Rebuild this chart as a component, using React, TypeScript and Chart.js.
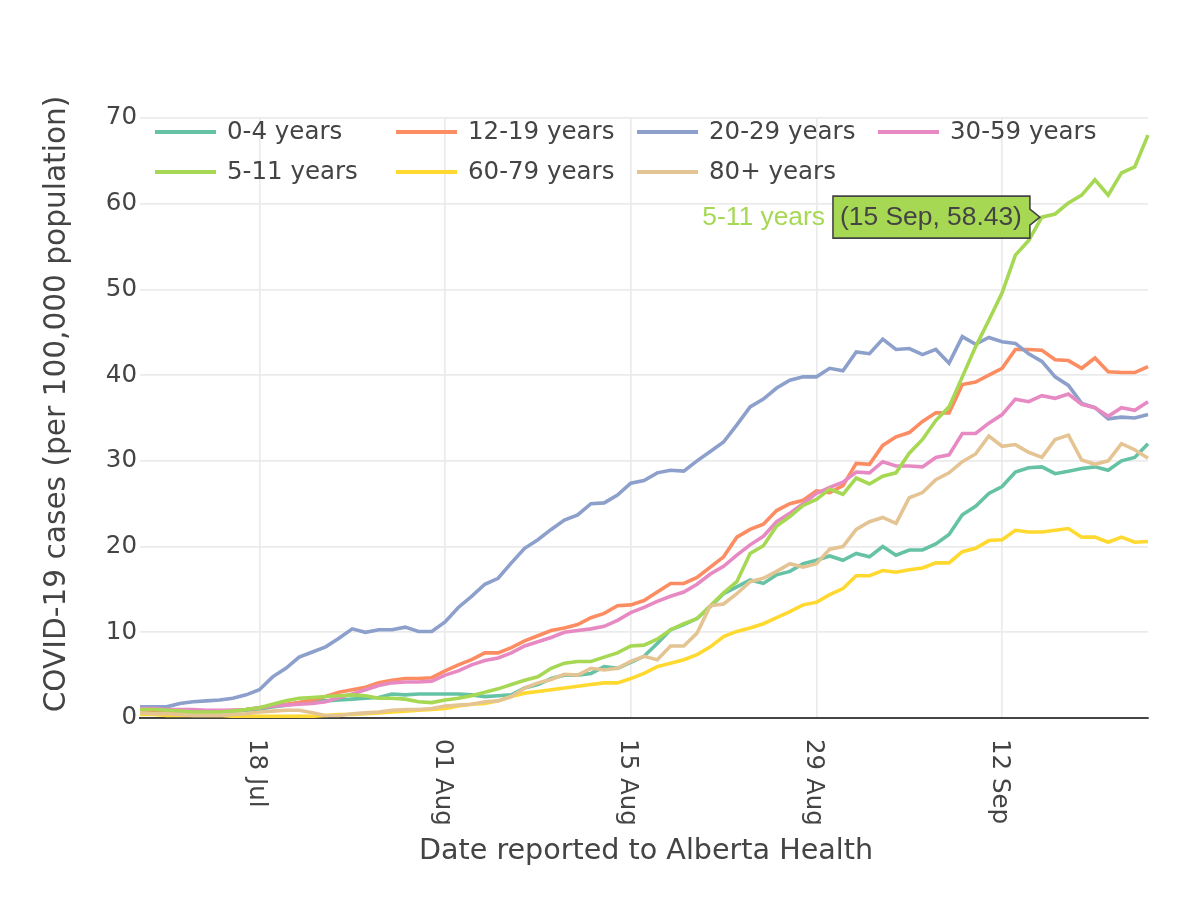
import React, { useEffect, useRef } from "react";
import { Chart, registerables } from "chart.js";

Chart.register(...registerables);

// ---------- data ----------
const START_DATE_UTC = Date.UTC(2021, 6, 9); // 09 Jul 2021
const N_DAYS = 77;
const MONTH_NAMES = ["Jan", "Feb", "Mar", "Apr", "May", "Jun", "Jul", "Aug", "Sep", "Oct", "Nov", "Dec"];
function buildDates(): string[] {
  const out: string[] = [];
  for (let i = 0; i < N_DAYS; i++) {
    const d = new Date(START_DATE_UTC + i * 86400000);
    out.push(String(d.getUTCDate()).padStart(2, "0") + " " + MONTH_NAMES[d.getUTCMonth()]);
  }
  return out;
}
const dates = buildDates();

const tickLabels = ["18 Jul", "01 Aug", "15 Aug", "29 Aug", "12 Sep"];
const yMin = 0;
const yMax = 70;
const yStep = 10;

const age0to4 = [0.8,0.8,0.8,0.7,0.7,0.7,0.7,0.8,0.9,1.0,1.3,1.5,1.8,2.0,2.0,2.1,2.2,2.3,2.4,2.8,2.7,2.8,2.8,
  2.8,2.8,2.7,2.5,2.6,2.7,3.5,3.9,4.6,5.0,5.0,5.2,6.0,5.8,6.5,7.2,8.7,10.3,10.9,11.6,13.0,14.5,15.3,16.1,15.7,16.7,17.1,18.0,18.4,18.9,18.4,19.2,18.8,20.0,19.0,19.6,19.6,20.3,21.4,23.7,24.7,26.2,27.0,28.7,29.2,29.3,28.5,28.8,29.1,29.3,28.9,30.0,30.4,32.0];
const age5to11 = [1.0,1.0,0.9,0.8,0.7,0.7,0.7,0.8,1.0,1.2,1.6,2.0,2.3,2.4,2.5,2.6,2.7,2.6,2.3,2.3,2.2,1.9,1.8,
  2.1,2.3,2.6,3.0,3.4,3.9,4.4,4.8,5.8,6.4,6.6,6.6,7.1,7.6,8.4,8.5,9.2,10.3,11.0,11.6,13.1,14.6,15.9,19.2,20.1,22.4,23.5,24.8,25.5,26.7,26.1,28.0,27.3,28.2,28.6,30.9,32.5,34.7,36.3,39.8,43.3,46.4,49.6,54.0,55.7,58.43,58.8,60.1,61.0,62.8,61.0,63.6,64.3,68.0];
const age12to19 = [0.9,0.9,0.8,0.8,0.8,0.8,0.8,0.9,1.0,1.2,1.4,1.6,1.8,2.1,2.5,3.0,3.3,3.6,4.1,4.4,4.6,4.6,4.7,
  5.5,6.2,6.8,7.6,7.6,8.2,9.0,9.6,10.2,10.5,10.9,11.7,12.2,13.1,13.2,13.7,14.7,15.7,15.7,16.4,17.6,18.8,21.1,22.0,22.6,24.2,25.0,25.4,26.5,26.3,27.1,29.7,29.6,31.8,32.8,33.3,34.6,35.6,35.6,38.9,39.2,40.0,40.8,43.0,43.0,42.9,41.8,41.7,40.8,42.0,40.4,40.3,40.3,41.0];
const age20to29 = [1.3,1.3,1.3,1.7,1.9,2.0,2.1,2.3,2.7,3.3,4.8,5.8,7.1,7.7,8.3,9.3,10.4,10.0,10.3,10.3,10.6,10.1,10.1,
  11.2,12.9,14.2,15.6,16.3,18.1,19.8,20.8,22.0,23.1,23.7,25.0,25.1,26.0,27.4,27.7,28.6,28.9,28.8,30.0,31.1,32.2,34.2,36.3,37.2,38.5,39.4,39.8,39.8,40.8,40.5,42.7,42.5,44.2,43.0,43.1,42.4,43.0,41.4,44.5,43.6,44.4,43.9,43.7,42.5,41.6,39.8,38.8,36.7,36.2,34.9,35.1,35.0,35.4];
const age30to59 = [1.1,1.1,1.0,1.0,1.0,0.9,0.9,0.9,1.0,1.2,1.4,1.5,1.6,1.7,1.9,2.4,2.8,3.3,3.8,4.1,4.2,4.2,4.3,
  5.0,5.5,6.2,6.7,7.0,7.6,8.4,8.9,9.4,10.0,10.2,10.4,10.7,11.4,12.3,12.9,13.6,14.2,14.7,15.6,16.8,17.7,19.0,20.2,21.2,22.9,23.9,25.0,26.2,26.9,27.5,28.7,28.6,29.9,29.4,29.4,29.3,30.4,30.7,33.2,33.2,34.4,35.4,37.2,36.9,37.6,37.3,37.8,36.6,36.2,35.2,36.2,35.9,36.9];
const age60to79 = [0.4,0.4,0.3,0.3,0.3,0.3,0.3,0.2,0.2,0.2,0.2,0.2,0.2,0.2,0.3,0.4,0.4,0.5,0.6,0.7,0.8,0.9,1.0,
  1.1,1.4,1.6,1.7,2.0,2.5,2.9,3.1,3.3,3.5,3.7,3.9,4.1,4.1,4.6,5.2,6.0,6.4,6.8,7.4,8.3,9.5,10.1,10.5,11.0,11.7,12.4,13.2,13.5,14.4,15.1,16.6,16.6,17.2,17.0,17.3,17.5,18.1,18.1,19.4,19.8,20.7,20.8,21.9,21.7,21.7,21.9,22.1,21.1,21.1,20.5,21.1,20.5,20.6];
const age80plus = [0.6,0.5,0.5,0.4,0.3,0.3,0.3,0.4,0.5,0.7,0.8,0.9,0.9,0.6,0.3,0.3,0.5,0.6,0.7,0.9,1.0,1.0,1.1,
  1.4,1.5,1.6,1.9,2.0,2.5,3.5,4.1,4.5,5.1,5.0,5.8,5.6,5.8,6.6,7.2,6.8,8.4,8.4,9.9,13.1,13.3,14.5,15.9,16.3,17.1,18.0,17.6,18.0,19.7,20.0,22.0,22.9,23.4,22.7,25.7,26.3,27.8,28.6,29.9,30.8,32.9,31.7,31.9,31.0,30.4,32.5,33.0,30.1,29.6,30.0,32.0,31.3,30.3];

// legend / trace order (plotly order: first drawn at bottom)
const seriesNames = ["0-4 years", "12-19 years", "20-29 years", "30-59 years", "5-11 years", "60-79 years", "80+ years"];
const seriesValues = [age0to4, age12to19, age20to29, age30to59, age5to11, age60to79, age80plus];
const seriesColors = ["#66c2a5", "#fc8d62", "#8da0cb", "#e78ac3", "#a6d854", "#ffd92f", "#e5c494"];

const hoverSeries = "5-11 years";
const hoverIndex = 68; // 15 Sep

const xTitle = "Date reported to Alberta Health";
const yTitle = "COVID-19 cases (per 100,000 population)";

// ---------- styles ----------
const TEXT = "#444";
const GRID = "#ebebeb";
const FONT = '"DejaVu Sans"';
const TICK_SIZE = 24.5;
const Y_TITLE_SIZE = 29.6;
const X_TITLE_SIZE = 28.6;
const HOVER_SIZE = 26.4;

const overlayPlugin = {
  id: "overlay",
  afterDatasetsDraw(chart: any) {
    const ctx: CanvasRenderingContext2D = chart.ctx;
    const { left, right, top, bottom } = chart.chartArea;
    const xs = chart.scales.x;
    ctx.save();
    ctx.fillStyle = TEXT;

    // x tick labels, rotated clockwise (read top to bottom)
    ctx.font = `${TICK_SIZE}px ${FONT}`;
    ctx.textAlign = "left";
    ctx.textBaseline = "middle";
    xs.ticks.forEach((t: any) => {
      const x = xs.getPixelForValue(t.value);
      ctx.save();
      ctx.translate(x - 3, bottom + 21);
      ctx.rotate(Math.PI / 2);
      ctx.fillText(dates[t.value], 0, 0);
      ctx.restore();
    });

    // axis titles
    ctx.textAlign = "center";
    ctx.textBaseline = "middle";
    ctx.font = `${X_TITLE_SIZE}px ${FONT}`;
    ctx.fillText(xTitle, (left + right) / 2 + 2, bottom + 134);
    ctx.font = `${Y_TITLE_SIZE}px ${FONT}`;
    ctx.save();
    ctx.translate(57, (top + bottom) / 2 - 14);
    ctx.rotate(-Math.PI / 2);
    ctx.fillText(yTitle, 0, 0);
    ctx.restore();

    // legend (4 columns grid, inside plot top-left)
    ctx.font = `${TICK_SIZE}px ${FONT}`;
    ctx.textAlign = "left";
    seriesNames.forEach((name, i) => {
      const col = i % 4;
      const row = Math.floor(i / 4);
      const lx = left + 15 + col * 241;
      const ly = top + 14 + row * 40;
      ctx.strokeStyle = seriesColors[i];
      ctx.lineWidth = 3.8;
      ctx.beginPath();
      ctx.moveTo(lx, ly);
      ctx.lineTo(lx + 61, ly);
      ctx.stroke();
      ctx.fillStyle = TEXT;
      ctx.fillText(name, lx + 72, ly + 1);
    });

    // hover label
    const si = seriesNames.indexOf(hoverSeries);
    const dsIndex = seriesNames.length - 1 - si; // datasets are reversed
    const el = chart.getDatasetMeta(dsIndex).data[hoverIndex];
    if (el) {
      const px = el.x, py = el.y;
      const label = `(${dates[hoverIndex]}, ${seriesValues[si][hoverIndex].toFixed(2)})`;
      ctx.font = `${HOVER_SIZE}px "Liberation Sans"`;
      const tw = ctx.measureText(label).width;
      const tipX = px - 2;
      const bR = tipX - 10;
      const bL = bR - tw - 15;
      const bT = py - 21;
      const bB = py + 21;
      ctx.beginPath();
      ctx.moveTo(bL, bT);
      ctx.lineTo(bR, bT);
      ctx.lineTo(bR, py - 8);
      ctx.lineTo(tipX, py);
      ctx.lineTo(bR, py + 8);
      ctx.lineTo(bR, bB);
      ctx.lineTo(bL, bB);
      ctx.closePath();
      ctx.fillStyle = seriesColors[si];
      ctx.fill();
      ctx.strokeStyle = TEXT;
      ctx.lineWidth = 1.6;
      ctx.stroke();
      ctx.fillStyle = TEXT;
      ctx.textAlign = "left";
      ctx.textBaseline = "middle";
      ctx.fillText(label, bL + 7, py + 1);
      ctx.fillStyle = seriesColors[si];
      ctx.textAlign = "right";
      ctx.fillText(hoverSeries, bL - 8, py + 1);
    }
    ctx.restore();
  },
};

export default function App() {
  const canvasRef = useRef<HTMLCanvasElement | null>(null);

  useEffect(() => {
    document.body.style.margin = "0";
    const canvas = canvasRef.current;
    if (!canvas) return;

    // datasets: Chart.js draws index 0 on top, so reverse plotly's trace order
    const datasets = seriesNames
      .map((name, i) => ({
        label: name,
        data: seriesValues[i],
        borderColor: seriesColors[i],
        backgroundColor: seriesColors[i],
        borderWidth: 3.6,
        pointRadius: 0,
        pointHoverRadius: 0,
        tension: 0,
        fill: false,
      }))
      .reverse();

    const chart = new Chart(canvas, {
      type: "line",
      data: { labels: dates, datasets },
      options: {
        responsive: false,
        animation: false,
        events: [],
        layout: { padding: { top: 118, right: 52, left: 0, bottom: 0 } },
        plugins: {
          legend: { display: false },
          title: { display: false },
          tooltip: { enabled: false },
        },
        scales: {
          x: {
            type: "category",
            offset: false,
            grid: { color: GRID, lineWidth: 1.7, drawTicks: false },
            border: { display: true, color: "#444", width: 2 },
            ticks: { display: false, autoSkip: false },
            afterBuildTicks: (scale: any) => {
              scale.ticks = scale.ticks.filter((t: any) => tickLabels.includes(dates[t.value]));
            },
            afterFit: (scale: any) => {
              scale.height = 905 - 718;
            },
          },
          y: {
            min: yMin,
            max: yMax,
            grid: {
              color: (c: any) => (c.tick && c.tick.value === 0 ? "rgba(0,0,0,0)" : GRID),
              lineWidth: 1.7,
              drawTicks: false,
            },
            border: { display: false },
            ticks: {
              stepSize: yStep,
              color: TEXT,
              padding: 3,
              font: { family: "DejaVu Sans", size: TICK_SIZE },
            },
            afterFit: (scale: any) => {
              scale.width = 140;
            },
          },
        },
      },
      plugins: [overlayPlugin],
    });

    return () => chart.destroy();
  }, []);

  return (
    <div style={{ position: "absolute", left: 0, top: 0, width: 1200, height: 905, background: "#fff" }}>
      <canvas ref={canvasRef} width={1200} height={905} style={{ width: 1200, height: 905, display: "block" }} />
    </div>
  );
}
